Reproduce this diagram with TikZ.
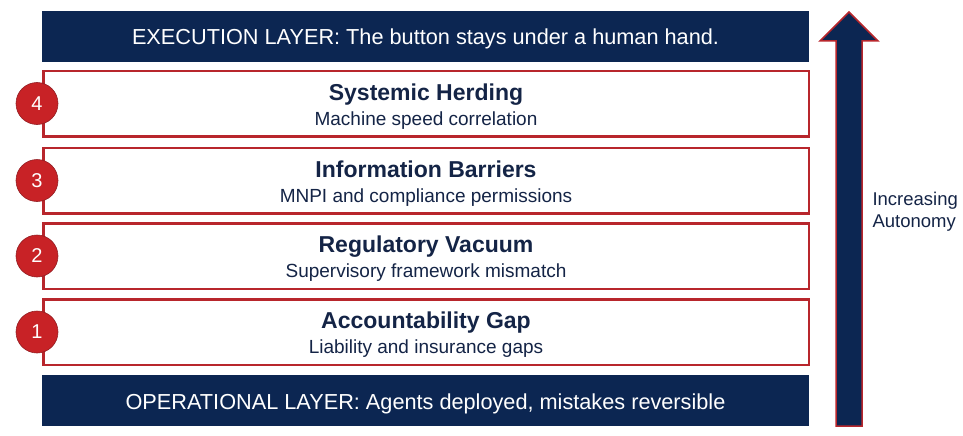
\documentclass[tikz,border=0pt]{standalone}
\usepackage{fontspec}
\setmainfont{Liberation Sans}
\usepackage{tikz}

\definecolor{navy}{RGB}{12,38,82}
\definecolor{inknavy}{RGB}{20,36,70}
\definecolor{riskred}{RGB}{184,38,44}
\definecolor{dotred}{RGB}{200,34,38}

\begin{document}
\begin{tikzpicture}[x=1pt, y=-1pt,
    layerbar/.style={fill=navy, draw=none, minimum width=767pt, minimum height=51pt, inner sep=0pt},
    layertext/.style={anchor=base, text=white, font=\fontsize{21.7}{24}\selectfont},
    riskbox/.style={fill=white, draw=riskred, line width=2.5pt, minimum width=765.5pt, minimum height=65.5pt, inner sep=0pt},
    risktitle/.style={anchor=base, text=inknavy, font=\bfseries\fontsize{23}{26}\selectfont},
    risksub/.style={anchor=base, text=inknavy, font=\fontsize{19}{22}\selectfont},
    riskdot/.style={circle, fill=dotred, draw=riskred!80!black, line width=0.6pt, minimum size=42pt, inner sep=0pt, xshift=-5pt, text=white, font=\fontsize{20}{22}\selectfont}]
    \useasboundingbox (0,0) rectangle (963,436);

    % top and bottom layers
    \node[layerbar] (exec) at (425.5,36.5) {};
    \node[layertext] (exectxt) at (425.5,45) {EXECUTION LAYER: The button stays under a human hand.};
    \node[layerbar] (oper) at (425.5,400.5) {};
    \node[layertext] (opertxt) at (425.5,409) {OPERATIONAL LAYER: Agents deployed, mistakes reversible};

    % risk rows
    \node[riskbox] (herd) at (426,103.5) {};
    \node[risktitle] (herdtitle) at (426,100) {Systemic Herding};
    \node[risksub] (herdsub) at (426,125) {Machine speed correlation};
    \node[riskdot] (dot4) at (herd.west) {4};

    \node[riskbox] (info) at (426,180.5) {};
    \node[risktitle] (infotitle) at (426,177) {Information Barriers};
    \node[risksub] (infosub) at (426,202) {MNPI and compliance permissions};
    \node[riskdot] (dot3) at (info.west) {3};

    \node[riskbox] (vac) at (426,256) {};
    \node[risktitle] (vactitle) at (426,252.5) {Regulatory Vacuum};
    \node[risksub] (vacsub) at (426,277.5) {Supervisory framework mismatch};
    \node[riskdot] (dot2) at (vac.west) {2};

    \node[riskbox] (acc) at (426,332) {};
    \node[risktitle] (acctitle) at (426,328.5) {Accountability Gap};
    \node[risksub] (accsub) at (426,353.5) {Liability and insurance gaps};
    \node[riskdot] (dot1) at (acc.west) {1};

    % autonomy arrow
    \draw[fill=navy, draw=riskred, line width=1.5pt, line join=miter]
        (836,426) -- (836,41) -- (820,41) -- (849,12) -- (878,41) -- (862,41) -- (862,426) -- cycle;
    \node[anchor=base west, text=inknavy, font=\fontsize{18.5}{22}\selectfont] (autoa) at (869,205) {Increasing};
    \node[anchor=base west, text=inknavy, font=\fontsize{18.5}{22}\selectfont] (autob) at (869,227) {Autonomy};
\end{tikzpicture}
\end{document}
